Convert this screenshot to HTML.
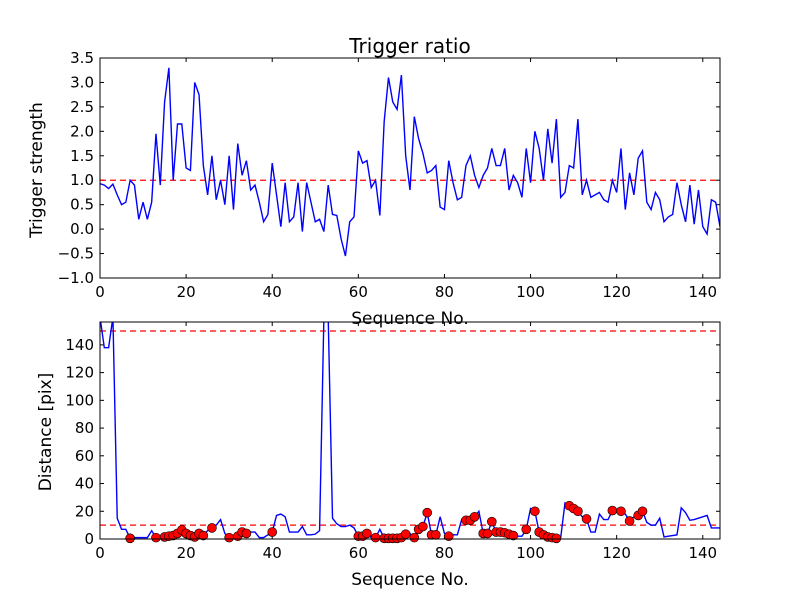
<!DOCTYPE html>
<html><head><meta charset="utf-8"><style>
html,body{margin:0;padding:0;background:#fff;}
svg{display:block;font-family:"DejaVu Sans","Liberation Sans",sans-serif;}
</style></head>
<body>
<svg id="chart" width="800" height="600" viewBox="0 0 800 600" xmlns="http://www.w3.org/2000/svg">
<rect width="800" height="600" fill="#fff"/>
<text x="410" y="53" font-size="20" text-anchor="middle">Trigger ratio</text>
<g id="top"></g>
<g id="bot"></g>
<text x="410" y="324" font-size="17" text-anchor="middle">Sequence No.</text>
<text x="410" y="585" font-size="17" text-anchor="middle">Sequence No.</text>
<text transform="translate(42,170) rotate(-90)" font-size="17" text-anchor="middle">Trigger strength</text>
<text transform="translate(51,432) rotate(-90)" font-size="17" text-anchor="middle">Distance [pix]</text>
</svg>
<script>
const strength = [0.93,0.9,0.83,0.92,0.7,0.5,0.55,1.0,0.9,0.2,0.55,0.2,0.55,1.95,0.9,2.6,3.3,1.0,2.15,2.15,1.25,1.2,3.0,2.75,1.3,0.7,1.5,0.6,1.0,0.5,1.5,0.4,1.75,1.1,1.4,0.8,0.9,0.55,0.15,0.3,1.35,0.7,0.05,0.95,0.15,0.25,0.95,-0.05,0.95,0.55,0.15,0.2,-0.05,0.9,0.3,0.28,-0.2,-0.55,0.15,0.25,1.6,1.35,1.4,0.85,1.0,0.28,2.2,3.1,2.6,2.45,3.15,1.5,0.8,2.3,1.85,1.55,1.15,1.2,1.3,0.45,0.4,1.4,0.95,0.6,0.65,1.3,1.5,1.1,0.85,1.1,1.25,1.65,1.3,1.3,1.65,0.8,1.1,0.95,0.65,1.65,0.95,2.0,1.65,1.0,2.05,1.35,2.25,0.65,0.75,1.3,1.25,2.25,0.7,1.0,0.65,0.7,0.75,0.6,0.55,1.0,0.75,1.65,0.4,1.15,0.7,1.45,1.6,0.55,0.4,0.75,0.6,0.15,0.25,0.3,0.95,0.5,0.15,0.9,0.1,0.8,0.05,-0.1,0.6,0.55,0.05];
const distance = [160,138,138,160,15,7,7,0.5,1,1,1,1,6,1,1.5,1.5,2,2.5,4,6.5,4,2.5,1.5,4,2.5,6,8,10,14,4,1,1,2,5,4,5,5,1,1,3,5,17,18,16,5,5,5,9,3,3,3.5,6,160,160,15,11,9,9,10,8,2,2,4,1,1,7,0.5,0.5,0.5,0.5,1,3.5,4,1,7,9,19,3,3,16,4,2,3,3,14,13.5,13.5,16,20,4,4,12.5,5,5,4.5,3.5,2.5,2,2,7,22,20,5,3,1.5,1,0.5,1,26,24,22,20,16,14.5,5,5,18,14,14,20.5,20,20,18,13,16,17,20,12,10,10,15,1.5,2,2.5,3,22.5,19,13.5,14,15,16,17,8,8,8];
const markerIdx = [7,13,15,16,17,18,19,20,21,22,23,24,26,30,32,33,34,40,60,61,62,64,66,67,68,69,70,71,73,74,75,76,77,78,81,85,86,87,89,90,91,92,93,94,95,96,99,101,102,103,104,105,106,109,110,111,113,119,121,123,125,126];
const xTicks = [0,20,40,60,80,100,120,140];
const topYTicks = [-1.0,-0.5,0.0,0.5,1.0,1.5,2.0,2.5,3.0,3.5];
const botYTicks = [0,20,40,60,80,100,120,140];
const topThreshold = [1.0];
const botThresholds = [10,150];

const NS="http://www.w3.org/2000/svg";
const L=100,R=720;
function mk(tag,attrs,parent){const e=document.createElementNS(NS,tag);for(const k in attrs)e.setAttribute(k,attrs[k]);parent.appendChild(e);return e;}
const xS=v=>L+(v-0)/(144-0)*(R-L);

function panel(g,T,B,ymin,ymax,ticks,fmt,id){
  const yS=v=>B-(v-ymin)/(ymax-ymin)*(B-T);
  const cp=mk('clipPath',{id:'clip'+id},g);
  mk('rect',{x:L,y:T,width:R-L,height:B-T},cp);
  xTicks.forEach(t=>{
    const x=xS(t);
    const a=mk('line',{x1:x,x2:x,y1:B,y2:B-4,stroke:'#000'},g);
    
    
    mk('line',{x1:x,x2:x,y1:T,y2:T+4,stroke:'#000'},g);
    const tx=mk('text',{x:x,y:B+19,'font-size':15,'text-anchor':'middle'},g);
    tx.textContent=t;
    
    
  });
  ticks.forEach(t=>{
    const y=yS(t);
    const a=mk('line',{x1:L,x2:L+4,y1:y,y2:y,stroke:'#000'},g);
    
    
    mk('line',{x1:R,x2:R-4,y1:y,y2:y,stroke:'#000'},g);
    const tx=mk('text',{x:L-6,y:y+5,'font-size':15,'text-anchor':'end'},g);
    tx.textContent=fmt(t);
    
    
  });
  return yS;
}

const gt=document.getElementById('top');
const yT=panel(gt,58,278,-1,3.5,topYTicks,t=>(t<0?'\u2212':'')+Math.abs(t).toFixed(1),'t');
topThreshold.forEach(v=>{
  const l=mk('line',{x1:L,x2:R,y1:yT(v),y2:yT(v),stroke:'#f00','stroke-width':1.3,'stroke-dasharray':'6,4'},gt);
  
  
});
const pt=mk('polyline',{points:strength.map((v,i)=>xS(i)+','+yT(v)).join(' '),fill:'none',stroke:'#00f','stroke-width':1.4,'clip-path':'url(#clipt)'},gt);


const ft=mk('rect',{x:L,y:58,width:R-L,height:220,fill:'none',stroke:'#000'},gt);



const gb=document.getElementById('bot');
const yB=panel(gb,322,539,0,156.5,botYTicks,t=>String(t),'b');
botThresholds.forEach(v=>{
  const l=mk('line',{x1:L,x2:R,y1:yB(v),y2:yB(v),stroke:'#f00','stroke-width':1.3,'stroke-dasharray':'6,4'},gb);
  
  
});
const pb=mk('polyline',{points:distance.map((v,i)=>xS(i)+','+yB(v)).join(' '),fill:'none',stroke:'#00f','stroke-width':1.4,'clip-path':'url(#clipb)'},gb);


markerIdx.forEach(i=>{
  const c=mk('circle',{cx:xS(i),cy:yB(distance[i]),r:4.5,fill:'#f00',stroke:'#000','stroke-width':0.6},gb);
  
  
});
const fb=mk('rect',{x:L,y:322,width:R-L,height:217,fill:'none',stroke:'#000'},gb);


</script>
</body></html>
